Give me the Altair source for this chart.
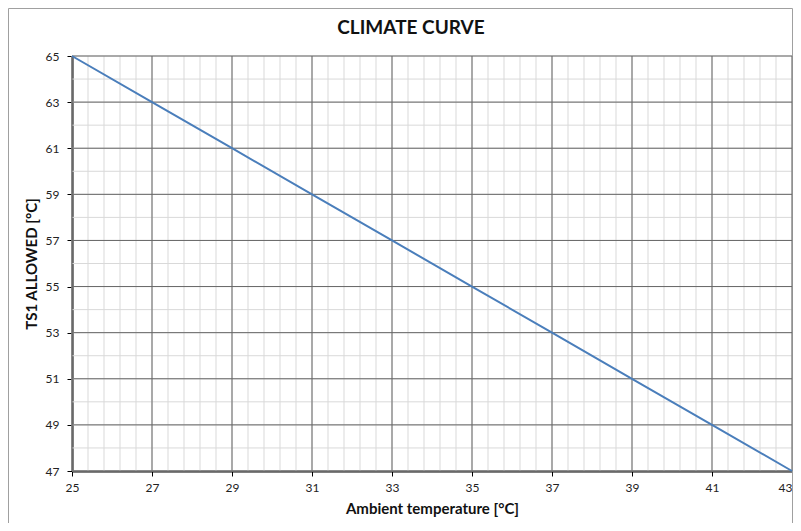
import altair as alt
import pandas as pd
import numpy as np

# Data
ambient = [25, 27, 29, 31, 33, 35, 37, 39, 41, 43]
ts1_allowed = [65, 63, 61, 59, 57, 55, 53, 51, 49, 47]

x_ticks = [25, 27, 29, 31, 33, 35, 37, 39, 41, 43]
y_ticks = [47, 49, 51, 53, 55, 57, 59, 61, 63, 65]
x_minor = [round(v, 1) for v in np.arange(25, 43.001, 0.4)]
y_minor = list(range(47, 66))

title_text = "CLIMATE CURVE"
x_title = "Ambient temperature [°C]"
y_title = "TS1 ALLOWED [°C]"

FONT = "Lato"
W, H = 720, 415

df = pd.DataFrame({"x": ambient, "y": ts1_allowed})
xs = alt.Scale(domain=[25, 43], nice=False, zero=False)
ys = alt.Scale(domain=[47, 65], nice=False, zero=False)

common = dict(
    grid=False,
    domainColor="black",
    domainWidth=2,
    tickColor="black",
    tickSize=5,
    labelFont=FONT,
    labelFontSize=12,
    labelColor="#222",
    titleFont=FONT,
    titleFontSize=15,
    titleFontWeight="bold",
    titleColor="#111",
    labelFlush=False,
)
x_axis = alt.Axis(
    values=x_ticks, labelPadding=6, titlePadding=8,
    labelAlign={"condition": {"test": "datum.value >= 43", "value": "right"}, "value": "center"},
    **common,
)
y_axis = alt.Axis(values=y_ticks, labelPadding=8, titlePadding=6, **common)


def X(field):
    return alt.X(field, scale=xs, title=x_title, axis=x_axis)


def Y(field):
    return alt.Y(field, scale=ys, title=y_title, axis=y_axis)


minor_v = alt.Chart(pd.DataFrame({"x": x_minor})).mark_rule(
    color="#d9d9d9", strokeWidth=1
).encode(x=X("x:Q"))
minor_h = alt.Chart(pd.DataFrame({"y": y_minor})).mark_rule(
    color="#d9d9d9", strokeWidth=1
).encode(y=Y("y:Q"))
major_v = alt.Chart(pd.DataFrame({"x": x_ticks})).mark_rule(
    color="#666666", strokeWidth=1
).encode(x=X("x:Q"))
major_h = alt.Chart(pd.DataFrame({"y": y_ticks})).mark_rule(
    color="#666666", strokeWidth=1
).encode(y=Y("y:Q"))

line = alt.Chart(df).mark_line(color="#4a7ebb", strokeWidth=2).encode(
    x=X("x:Q"), y=Y("y:Q")
)

border = alt.Chart(pd.DataFrame({"a": [0]})).mark_rect(
    fill="transparent", stroke="#a0a0a0", strokeWidth=1
).encode(
    x=alt.value(-63.5), x2=alt.value(W + 0.5),
    y=alt.value(-47.5), y2=alt.value(H + 80),
)

title = alt.Chart(pd.DataFrame({"t": [title_text]})).mark_text(
    font=FONT, fontSize=19, fontWeight="bold", color="#111",
    align="center", baseline="alphabetic",
).encode(x=alt.value(411 - 72), y=alt.value(34 - 56), text="t:N")

chart = alt.layer(border, minor_v, minor_h, major_v, major_h, line, title).properties(
    width=W,
    height=H,
    autosize=alt.AutoSizeParams(type="none"),
    padding={"left": 64, "top": 48, "right": 1, "bottom": 52},
).configure_view(stroke=None)

chart.save("out.html", embed_options={"renderer": "svg", "actions": False})
